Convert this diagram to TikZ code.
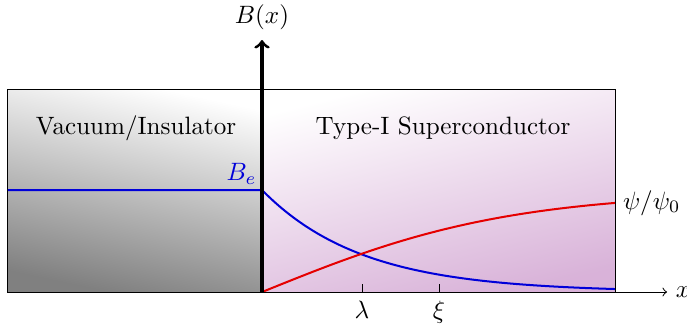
\documentclass[tikz,border=0pt]{standalone}
\usepackage{tikz}
\usetikzlibrary{positioning}

\begin{document}
\begin{tikzpicture}[
    x=1.4cm, y=1.4cm,
    >=to,
    % Styles
    vacregion/.style={
        top color=white, bottom color=gray, shading angle=-12
    },
    scregion/.style={
        top color=white, bottom color=violet!30, shading angle=14
    },
    regionlabel/.style={font=\normalsize, text=black, align=center},
    fieldcurve/.style={blue!85!black, thick},
    ordercurve/.style={red!90!black, thick},
    tickmark/.style={black, thin},
]

\useasboundingbox (-2.62,-0.33) rectangle (4.25,2.92);

%--- Regions ---%
\shade[vacregion] (-2.54,0) rectangle (0,2.03);
\shade[scregion]  (0,0) rectangle (3.53,2.03);
\draw[thin] (-2.54,0) rectangle (3.53,2.03);

\node[regionlabel] (vaclabel) at (-1.26,1.64) {Vacuum/Insulator};
\node[regionlabel] (sclabel)  at (1.81,1.64)  {Type-I Superconductor};

%--- Curves ---%
% B(x) = B_e for x<0, B_e exp(-x/lambda) inside, lambda = 1
\draw[fieldcurve] (-2.54,1.02) -- (0,1.02)
    -- plot[domain=0:3.53, samples=80, smooth] (\x, {1.02*exp(-\x)});
% psi/psi_0 = tanh(x/(sqrt(2) xi)), xi = 1.75
\draw[ordercurve] plot[domain=0:3.53, samples=80, smooth]
    (\x, {tanh(\x/(1.41421*1.75))}) coordinate (psiend);

\node[anchor=south east, text=blue!85!black, inner sep=2pt] (belabel) at (0,1.02) {$B_e$};
\node[right, inner sep=3pt] (psilabel) at (psiend) {$\psi/\psi_0$};

%--- Axes ---%
\coordinate (origin) at (0,0);
\coordinate (xend) at (4.05,0);
\coordinate (yend) at (0,2.52);
\draw[thin, ->] (origin) -- (xend) node[right] (xlabel) {$x$};
\draw[very thick, ->] (origin) -- (yend) node[above] (ylabel) {$B(x)$};

%--- Length scales ---%
\coordinate (lam) at (1,0);
\coordinate (xi) at (1.77,0);
\draw[tickmark] (lam) -- ++(0,0.08);
\draw[tickmark] (xi) -- ++(0,0.08);
\node[below] (lamlabel) at (lam) {$\lambda$};
\node[below] (xilabel) at (xi) {$\xi$};

\end{tikzpicture}
\end{document}
